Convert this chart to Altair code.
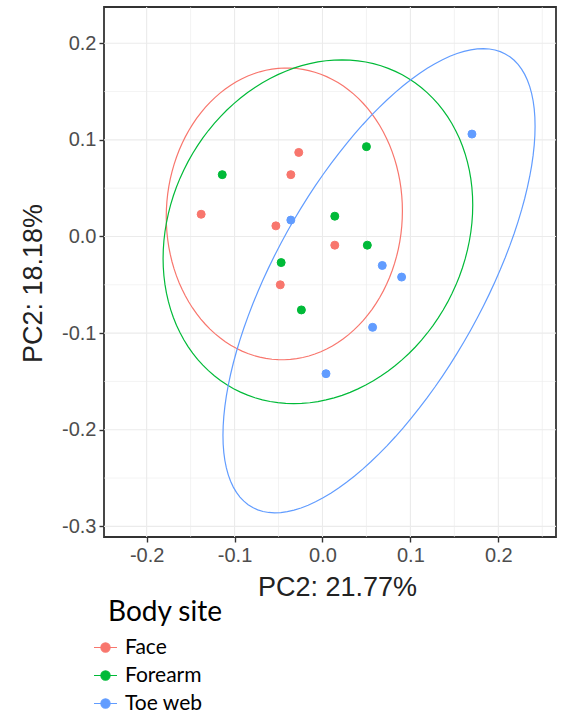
import math
import altair as alt
import pandas as pd

# Body sites and their colours
sites = ["Face", "Forearm", "Toe web"]
colors = ["#F8766D", "#00BA38", "#619CFF"]

# Sample scores on the two principal coordinates, per body site
face_pc1 = [-0.027, -0.036, -0.138, -0.053, 0.014, -0.048]
face_pc2 = [0.087, 0.064, 0.023, 0.011, -0.009, -0.050]
forearm_pc1 = [-0.114, 0.050, 0.014, 0.051, -0.047, -0.024]
forearm_pc2 = [0.064, 0.093, 0.021, -0.009, -0.027, -0.076]
toe_pc1 = [0.170, -0.036, 0.068, 0.090, 0.057, 0.004]
toe_pc2 = [0.106, 0.017, -0.030, -0.042, -0.094, -0.142]

# Confidence ellipse per site: centre, half-extent on each axis, correlation
ell_cx = [-0.0434, -0.0052, 0.0643]
ell_cy = [0.0234, 0.0049, -0.0458]
ell_rx = [0.1343, 0.1761, 0.1775]
ell_ry = [0.1510, 0.1779, 0.2402]
ell_rho = [0.02, 0.155, 0.666]

# Axis ticks (major) and the grid lines between them (minor)
x_ticks = [-0.2, -0.1, 0.0, 0.1, 0.2]
y_ticks = [-0.3, -0.2, -0.1, 0.0, 0.1, 0.2]
x_minor = [-0.15, -0.05, 0.05, 0.15, 0.25]
y_minor = [-0.25, -0.15, -0.05, 0.05, 0.15]
x_domain = [-0.2485, 0.2656]
y_domain = [-0.311, 0.2375]

points = pd.DataFrame(
    {
        "PC1": face_pc1 + forearm_pc1 + toe_pc1,
        "PC2": face_pc2 + forearm_pc2 + toe_pc2,
        "site": [sites[0]] * len(face_pc1)
        + [sites[1]] * len(forearm_pc1)
        + [sites[2]] * len(toe_pc1),
    }
)

rows = []
n_seg = 120
for s, cx, cy, rx, ry, rho in zip(sites, ell_cx, ell_cy, ell_rx, ell_ry, ell_rho):
    for i in range(n_seg + 1):
        t = 2 * math.pi * i / n_seg
        rows.append(
            {
                "site": s,
                "i": i,
                "PC1": cx + rx * math.cos(t),
                "PC2": cy + ry * (rho * math.cos(t) + math.sqrt(1 - rho**2) * math.sin(t)),
            }
        )
ellipses = pd.DataFrame(rows)

xgrid = pd.DataFrame({"v": x_ticks + x_minor, "w": [1.1] * len(x_ticks) + [0.6] * len(x_minor)})
ygrid = pd.DataFrame({"v": y_ticks + y_minor, "w": [1.1] * len(y_ticks) + [0.6] * len(y_minor)})

xscale = alt.Scale(domain=x_domain, nice=False, zero=False)
yscale = alt.Scale(domain=y_domain, nice=False, zero=False)
cscale = alt.Scale(domain=sites, range=colors)

label_expr = "datum.value < 0 ? '-' + format(-datum.value, '.1f') : format(datum.value, '.1f')"

x_axis = alt.Axis(
    values=x_ticks,
    labelExpr=label_expr,
    titleX=233,
    titleY=58,
    titleAlign="center",
    titleBaseline="alphabetic",
)
y_axis = alt.Axis(
    values=y_ticks,
    labelExpr=label_expr,
    titleX=-71,
    titleY=276,
    titleAngle=270,
    titleAlign="center",
    titleBaseline="middle",
)
x_title = "PC2: 21.77%"
y_title = "PC2: 18.18%"

legend_symbol = "M-1,0L1,0M-0.4,0A0.4,0.4,0,1,1,0.4,0A0.4,0.4,0,1,1,-0.4,0Z"


def site_legend():
    return alt.Legend(
        title="Body site",
        orient="none",
        legendX=4,
        legendY=592,
        symbolOffset=-15,
        symbolType=legend_symbol,
        symbolSize=529,
        symbolStrokeWidth=1.2,
        symbolOpacity=1,
        labelOffset=7,
        rowPadding=5,
        titlePadding=8,
        padding=0,
    )


vgrid = alt.Chart(xgrid).mark_rule(color="#ebebeb").encode(
    x=alt.X("v:Q", scale=xscale, axis=x_axis, title=x_title),
    strokeWidth=alt.StrokeWidth("w:Q", scale=None, legend=None),
)
hgrid = alt.Chart(ygrid).mark_rule(color="#ebebeb").encode(
    y=alt.Y("v:Q", scale=yscale, axis=y_axis, title=y_title),
    strokeWidth=alt.StrokeWidth("w:Q", scale=None, legend=None),
)

ell = alt.Chart(ellipses).mark_line(strokeWidth=1.2).encode(
    x=alt.X("PC1:Q", scale=xscale, axis=x_axis, title=x_title),
    y=alt.Y("PC2:Q", scale=yscale, axis=y_axis, title=y_title),
    stroke=alt.Stroke("site:N", scale=cscale, legend=site_legend()),
    detail="site:N",
    order="i:Q",
)

pts = alt.Chart(points).mark_point(filled=True, size=64, opacity=1, strokeWidth=1).encode(
    x=alt.X("PC1:Q", scale=xscale, axis=x_axis, title=x_title),
    y=alt.Y("PC2:Q", scale=yscale, axis=y_axis, title=y_title),
    fill=alt.Fill("site:N", scale=cscale, legend=site_legend()),
    stroke=alt.Stroke("site:N", scale=cscale, legend=site_legend()),
)

chart = (
    alt.layer(vgrid, hgrid, ell, pts)
    .properties(
        width=452,
        height=530,
        autosize=alt.AutoSizeParams(type="none"),
        padding={"left": 104, "top": 7, "right": 9, "bottom": 181},
        background="white",
    )
    .configure_view(stroke="#333333", strokeWidth=1.8)
    .configure_axis(
        domain=False,
        grid=False,
        ticks=True,
        tickColor="#333333",
        tickWidth=1.4,
        tickSize=5,
        labelFont="Liberation Sans",
        labelFontSize=20,
        labelColor="#4d4d4d",
        labelPadding=3,
        titleFont="Liberation Sans",
        titleFontSize=27,
        titleFontWeight="normal",
        titleColor="#222222",
    )
    .configure_legend(
        titleFont="Lato",
        titleFontSize=28,
        titleFontWeight="normal",
        titleColor="#000000",
        labelFont="Lato",
        labelFontSize=21,
        labelColor="#000000",
    )
)

chart.save("out.html", embed_options={"renderer": "svg", "actions": False})
